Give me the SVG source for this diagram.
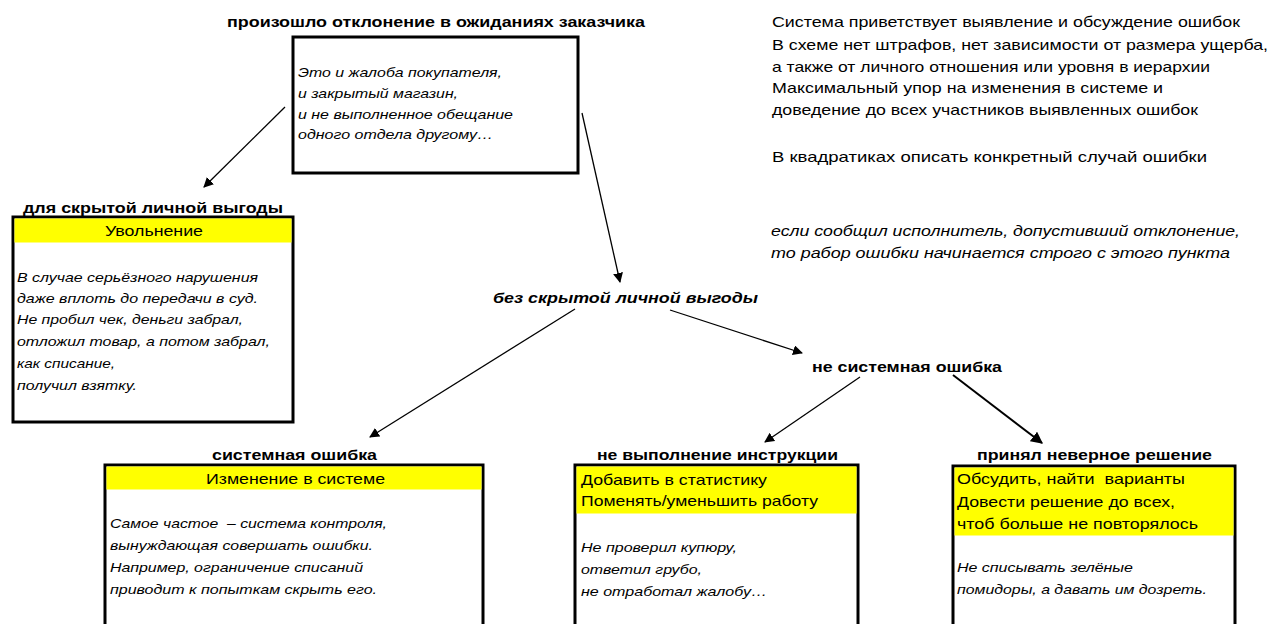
<svg xmlns="http://www.w3.org/2000/svg" width="1273" height="624" viewBox="0 0 1273 624">
<defs>
<marker id="ah" viewBox="0 0 10 10" refX="9" refY="5" markerWidth="10" markerHeight="10" markerUnits="userSpaceOnUse" orient="auto"><path d="M0,0 L10,5 L0,10 z" fill="#000"/></marker>
<marker id="ah2" viewBox="0 0 10 10" refX="9" refY="5" markerWidth="12" markerHeight="12" markerUnits="userSpaceOnUse" orient="auto"><path d="M0,0 L10,5 L0,10 z" fill="#000"/></marker>
<style>
.box{fill:#fff;stroke:#000;stroke-width:3}
.hl{fill:#ffff00}
.t{font-family:"Liberation Sans",Arial,sans-serif;fill:#000}
.b{font-weight:bold;font-size:15.5px}
.n{font-size:15px}
.i{font-style:italic;font-size:13px}
.c{stroke:#000;stroke-width:1.3;fill:none}
.pre{white-space:pre}
</style>
</defs>
<rect width="1273" height="624" fill="#fff"/>

<g id="connectors">
<line class="c" x1="285" y1="107" x2="204" y2="187" marker-end="url(#ah)"/>
<line class="c" x1="582" y1="113" x2="620" y2="282" marker-end="url(#ah)"/>
<line class="c" x1="575" y1="309" x2="370" y2="437" marker-end="url(#ah)"/>
<line class="c" x1="670" y1="310" x2="802" y2="353" marker-end="url(#ah)"/>
<line class="c" x1="860" y1="377" x2="765" y2="442" marker-end="url(#ah)"/>
<line class="c" style="stroke-width:2" x1="953" y1="375" x2="1042" y2="443" marker-end="url(#ah2)"/>
</g>

<g id="node-top">
<text class="t b" x="227" y="27" textLength="418" lengthAdjust="spacingAndGlyphs">произошло отклонение в ожиданиях заказчика</text>
<rect class="box" x="293" y="37" width="285" height="136"/>
<text class="t i" x="298" y="77" textLength="204" lengthAdjust="spacingAndGlyphs">Это и жалоба покупателя,</text>
<text class="t i" x="298" y="98" textLength="160" lengthAdjust="spacingAndGlyphs">и закрытый магазин,</text>
<text class="t i" x="298" y="119" textLength="215" lengthAdjust="spacingAndGlyphs">и не выполненное обещание</text>
<text class="t i" x="298" y="139" textLength="195" lengthAdjust="spacingAndGlyphs">одного отдела другому…</text>
</g>

<g id="node-hidden-benefit">
<text class="t b" x="23" y="213" textLength="260" lengthAdjust="spacingAndGlyphs">для скрытой личной выгоды</text>
<rect class="box" x="13" y="217" width="280" height="205"/>
<rect class="hl" x="14.5" y="218.5" width="277" height="24"/>
<text class="t n" x="105" y="236" textLength="98" lengthAdjust="spacingAndGlyphs">Увольнение</text>
<text class="t i" x="17" y="282" textLength="241" lengthAdjust="spacingAndGlyphs">В случае серьёзного нарушения</text>
<text class="t i" x="17" y="303" textLength="241" lengthAdjust="spacingAndGlyphs">даже вплоть до передачи в суд.</text>
<text class="t i" x="17" y="324" textLength="226" lengthAdjust="spacingAndGlyphs">Не пробил чек, деньги забрал,</text>
<text class="t i" x="17" y="346" textLength="253" lengthAdjust="spacingAndGlyphs">отложил товар, а потом забрал,</text>
<text class="t i" x="17" y="368" textLength="98" lengthAdjust="spacingAndGlyphs">как списание,</text>
<text class="t i" x="17" y="390" textLength="120" lengthAdjust="spacingAndGlyphs">получил взятку.</text>
</g>

<g id="node-no-benefit">
<text class="t b" style="font-style:italic" x="493" y="303" textLength="265" lengthAdjust="spacingAndGlyphs">без скрытой личной выгоды</text>
</g>

<g id="node-nonsystem">
<text class="t b" x="812" y="372" textLength="190" lengthAdjust="spacingAndGlyphs">не системная ошибка</text>
</g>

<g id="node-system">
<text class="t b" x="212" y="460" textLength="165" lengthAdjust="spacingAndGlyphs">системная ошибка</text>
<rect class="box" x="105" y="465" width="378" height="175"/>
<rect class="hl" x="106.5" y="466.5" width="375" height="23"/>
<text class="t n" x="206" y="484" textLength="179" lengthAdjust="spacingAndGlyphs">Изменение в системе</text>
<text class="t i pre" x="110" y="528" textLength="277" lengthAdjust="spacingAndGlyphs">Самое частое  – система контроля,</text>
<text class="t i" x="110" y="550" textLength="263" lengthAdjust="spacingAndGlyphs">вынуждающая совершать ошибки.</text>
<text class="t i" x="110" y="572" textLength="253" lengthAdjust="spacingAndGlyphs">Например, ограничение списаний</text>
<text class="t i" x="110" y="594" textLength="267" lengthAdjust="spacingAndGlyphs">приводит к попыткам скрыть его.</text>
</g>

<g id="node-instruction">
<text class="t b" x="597" y="460" textLength="241" lengthAdjust="spacingAndGlyphs">не выполнение инструкции</text>
<rect class="box" x="575" y="465" width="283" height="175"/>
<rect class="hl" x="576.5" y="466.5" width="280" height="47"/>
<text class="t n" x="581" y="485" textLength="186" lengthAdjust="spacingAndGlyphs">Добавить в статистику</text>
<text class="t n" x="581" y="506" textLength="237" lengthAdjust="spacingAndGlyphs">Поменять/уменьшить работу</text>
<text class="t i" x="581" y="552" textLength="156" lengthAdjust="spacingAndGlyphs">Не проверил купюру,</text>
<text class="t i" x="581" y="574" textLength="121" lengthAdjust="spacingAndGlyphs">ответил грубо,</text>
<text class="t i" x="581" y="596" textLength="186" lengthAdjust="spacingAndGlyphs">не отработал жалобу…</text>
</g>

<g id="node-decision">
<text class="t b" x="977" y="460" textLength="235" lengthAdjust="spacingAndGlyphs">принял неверное решение</text>
<rect class="box" x="953" y="466" width="282" height="175"/>
<rect class="hl" x="954.5" y="467.5" width="279" height="68"/>
<text class="t n pre" x="957" y="484" textLength="228" lengthAdjust="spacingAndGlyphs">Обсудить, найти  варианты</text>
<text class="t n" x="957" y="507" textLength="218" lengthAdjust="spacingAndGlyphs">Довести решение до всех,</text>
<text class="t n" x="957" y="529" textLength="241" lengthAdjust="spacingAndGlyphs">чтоб больше не повторялось</text>
<text class="t i" x="957" y="572" textLength="176" lengthAdjust="spacingAndGlyphs">Не списывать зелёные</text>
<text class="t i" x="957" y="594" textLength="250" lengthAdjust="spacingAndGlyphs">помидоры, а давать им дозреть.</text>
</g>

<g id="notes">
<text class="t n" x="772" y="27" textLength="468" lengthAdjust="spacingAndGlyphs">Система приветствует выявление и обсуждение ошибок</text>
<text class="t n" x="772" y="50" textLength="496" lengthAdjust="spacingAndGlyphs">В схеме нет штрафов, нет зависимости от размера ущерба,</text>
<text class="t n" x="772" y="72" textLength="438" lengthAdjust="spacingAndGlyphs">а также от личного отношения или уровня в иерархии</text>
<text class="t n" x="772" y="93" textLength="391" lengthAdjust="spacingAndGlyphs">Максимальный упор на изменения в системе и</text>
<text class="t n" x="772" y="115" textLength="426" lengthAdjust="spacingAndGlyphs">доведение до всех участников выявленных ошибок</text>
<text class="t n" x="772" y="162" textLength="435" lengthAdjust="spacingAndGlyphs">В квадратиках описать конкретный случай ошибки</text>
<text class="t n" style="font-style:italic" x="771" y="236" textLength="469" lengthAdjust="spacingAndGlyphs">если сообщил исполнитель, допустивший отклонение,</text>
<text class="t n" style="font-style:italic" x="771" y="258" textLength="459" lengthAdjust="spacingAndGlyphs">то рабор ошибки начинается строго с этого пункта</text>
</g>
</svg>
